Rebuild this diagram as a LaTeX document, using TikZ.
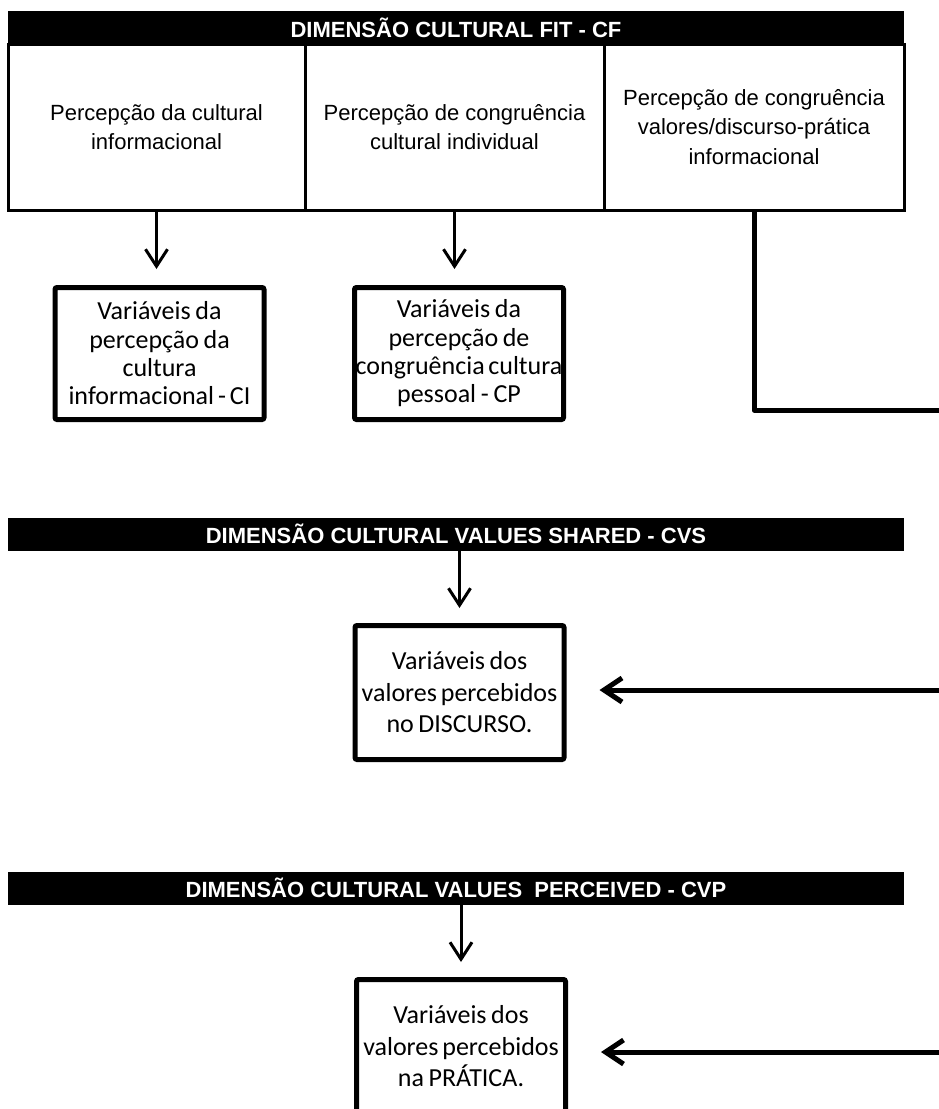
\documentclass[tikz,border=0pt]{standalone}
\usepackage{fontspec}
\setmainfont{Liberation Sans}
\newfontfamily\calibfont{Carlito}
\usetikzlibrary{arrows.meta}
% narrow inter-word spaces in the variable boxes
\newcommand\narrowspaces{\spaceskip=0.14em plus 0.05em\relax}

\begin{document}
\begin{tikzpicture}[x=1pt,y=-1pt,
  header/.style={fill=black, text=white, inner sep=0pt,
    font=\bfseries\fontsize{22}{26}\selectfont,
    minimum width=896pt, minimum height=33pt},
  colbox/.style={draw, line width=3pt, inner sep=0pt, align=center,
    minimum height=166pt, font=\fontsize{22}{29.5}\selectfont},
  varbox/.style={draw, line width=5pt, rounded corners=2pt, inner sep=0pt,
    align=center, text width=209pt, minimum width=209pt,
    font=\calibfont\fontsize{26}{28.3}\selectfont,
    execute at begin node=\narrowspaces},
  varboxtall/.style={varbox, minimum height=134pt,
    font=\calibfont\fontsize{26}{31.5}\selectfont},
  downarrow/.style={line width=3pt, -{Straight Barb[length=17pt, width=22pt]}},
  leftarrow/.style={line width=5pt, -{Straight Barb[length=18pt, width=24pt]}},
  link/.style={line width=5pt, line join=round}
]
\useasboundingbox (0,0) rectangle (939,1109);

% --- Cultural fit block ---------------------------------------------------
\node[colbox, minimum width=297pt] (col1) at (156.5,127)
  {Percepção da cultural\\informacional};
\node[colbox, minimum width=299pt] (col2) at (454.5,127)
  {Percepção de congruência\\cultural individual};
\node[colbox, minimum width=300pt] (col3) at (754,127)
  {Percepção de congruência\\valores/discurso-prática\\informacional};
\node[header] (hdrCF) at (456,27.5) {DIMENSÃO CULTURAL FIT - CF};

\node[varbox, minimum height=132pt] (ci) at (159.5,353.5)
  {Variáveis da\\percepção da\\cultura\\informacional - CI};
\node[varbox, minimum height=132pt] (cp) at (459,353.5)
  {Variáveis da\\percepção de\\congruência cultura\\pessoal - CP};

\draw[downarrow, shorten >=16pt] (col1.south) -- (col1.south |- ci.north);
\draw[downarrow, shorten >=16pt] (col2.south) -- (col2.south |- cp.north);

% feed from the third column towards the value dimensions
\coordinate (outR) at (939,410);
\draw[link] (col3.south) |- (outR);

% --- Values shared --------------------------------------------------------
\node[header] (hdrCVS) at (456,534) {DIMENSÃO CULTURAL VALUES SHARED - CVS};
\node[varboxtall] (cvs) at (459.5,692.5)
  {Variáveis dos\\valores percebidos\\no DISCURSO.};
\draw[downarrow, shorten >=15pt] (hdrCVS.south -| cvs.north) -- (cvs.north);
\coordinate (inS) at (939,690);
\draw[leftarrow, shorten >=33pt] (inS) -- (inS -| cvs.east);

% --- Values perceived -----------------------------------------------------
\node[header] (hdrCVP) at (456,888) {DIMENSÃO CULTURAL VALUES\ \ PERCEIVED - CVP};
\node[varboxtall] (cvp) at (461,1046.5)
  {Variáveis dos\\valores percebidos\\na PRÁTICA.};
\draw[downarrow, shorten >=15pt] (hdrCVP.south -| cvp.north) -- (cvp.north);
\coordinate (inP) at (939,1052);
\draw[leftarrow, shorten >=33pt] (inP) -- (inP -| cvp.east);
\end{tikzpicture}
\end{document}
